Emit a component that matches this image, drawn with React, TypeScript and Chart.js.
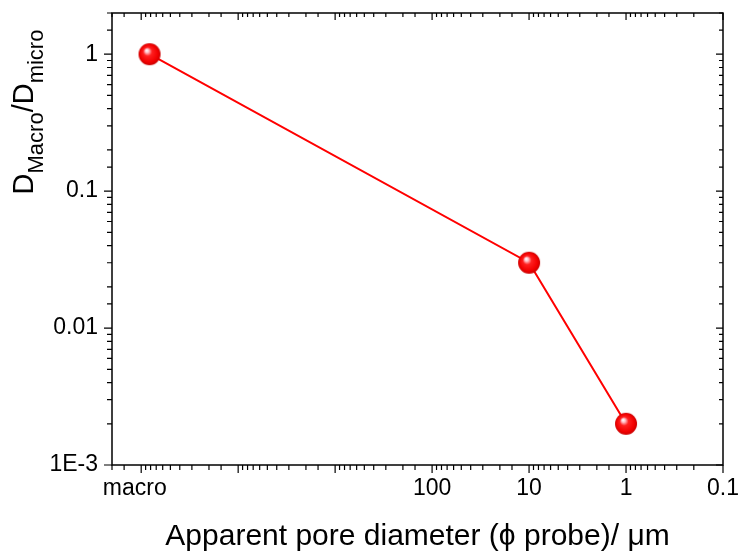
import React, { useEffect, useRef } from 'react';
import { Chart, registerables } from 'chart.js';

Chart.register(...registerables);

// ---- data ----
const xValues = [82000, 10, 1];
const ratioValues = [1, 0.03, 0.002];
const xTickValues = [1e5, 100, 10, 1, 0.1];
const xTickLabels = ['macro  ', '100', '10', '1', '0.1'];
const yTickValues = [1, 0.1, 0.01, 0.001];
const yTickLabels = ['1', '0.1', '0.01', '1E-3'];
const xMin = 0.1;
const xMax = 2e5;
const yMin = 1e-3;
const yMax = 2;
const xTitle = 'Apparent pore diameter (\u03D5 probe)/ \u03BCm';

const FONT = '"Liberation Sans", Arial, sans-serif';

function isDecade(v: number) {
  const l = Math.log10(v);
  return Math.abs(l - Math.round(l)) < 1e-6;
}

function labelFor(v: number, values: number[], labels: string[]) {
  for (let i = 0; i < values.length; i++) {
    if (Math.abs(Math.log10(v) - Math.log10(values[i])) < 1e-6) return labels[i];
  }
  return '';
}

function makeBall(r: number) {
  const s = 2 * r + 2;
  const c = document.createElement('canvas');
  c.width = s;
  c.height = s;
  const ctx = c.getContext('2d')!;
  const cx = s / 2;
  const cy = s / 2;
  const g = ctx.createRadialGradient(cx - 3, cy - 4, 0.3, cx, cy, r);
  g.addColorStop(0, '#ffffff');
  g.addColorStop(0.15, '#ffc0c8');
  g.addColorStop(0.38, '#ff2020');
  g.addColorStop(0.8, '#f20000');
  g.addColorStop(1, '#c80000');
  ctx.fillStyle = g;
  ctx.beginPath();
  ctx.arc(cx, cy, r, 0, Math.PI * 2);
  ctx.fill();
  return c;
}

const frameTicksPlugin = {
  id: 'frameTicks',
  afterDraw(chart: any) {
    const { ctx, chartArea: a, scales } = chart;
    const xs = scales.x;
    const ys = scales.y;
    ctx.save();
    ctx.strokeStyle = '#000';
    ctx.lineWidth = 1.5;
    ctx.strokeRect(a.left, a.top, a.right - a.left, a.bottom - a.top);
    ctx.lineWidth = 1.2;
    ctx.beginPath();
    xs.ticks.forEach((t: any) => {
      const p = xs.getPixelForValue(t.value);
      const major = isDecade(t.value);
      const out = major ? 8 : 5;
      const inn = major ? 7 : 4;
      ctx.moveTo(p, a.bottom);
      ctx.lineTo(p, a.bottom + out);
      ctx.moveTo(p, a.top);
      ctx.lineTo(p, a.top + inn);
    });
    ys.ticks.forEach((t: any) => {
      const p = ys.getPixelForValue(t.value);
      const major = isDecade(t.value);
      const out = major ? 8 : 5;
      const inn = major ? 7 : 4;
      ctx.moveTo(a.left, p);
      ctx.lineTo(a.left - out, p);
      ctx.moveTo(a.right, p);
      ctx.lineTo(a.right - inn, p);
    });
    ctx.stroke();

    // x title
    ctx.fillStyle = '#000';
    ctx.font = `30px ${FONT}`;
    ctx.textAlign = 'center';
    ctx.textBaseline = 'middle';
    ctx.fillText(xTitle, (a.left + a.right) / 2, 537);

    // y title with subscripts
    const big = `29px ${FONT}`;
    const small = `22px ${FONT}`;
    const parts: [string, string, number][] = [
      ['D', big, 0],
      ['Macro', small, 10],
      ['/D', big, 0],
      ['micro', small, 10],
    ];
    let total = 0;
    parts.forEach(([s, f]) => {
      ctx.font = f;
      total += ctx.measureText(s).width;
    });
    ctx.translate(33, 112 + total / 2);
    ctx.rotate(-Math.PI / 2);
    ctx.textAlign = 'left';
    ctx.textBaseline = 'alphabetic';
    let x = 0;
    parts.forEach(([s, f, dy]) => {
      ctx.font = f;
      ctx.fillText(s, x, dy);
      x += ctx.measureText(s).width;
    });
    ctx.restore();
  },
};

export default function App() {
  const ref = useRef<HTMLCanvasElement | null>(null);
  useEffect(() => {
    if (!ref.current) return;
    const ball = makeBall(11);
    const chart = new Chart(ref.current, {
      type: 'line',
      data: {
        datasets: [
          {
            data: xValues.map((x, i) => ({ x, y: ratioValues[i] })),
            borderColor: '#ff0000',
            borderWidth: 2,
            pointStyle: ball as any,
            pointRadius: 11,
            tension: 0,
          },
        ],
      },
      options: {
        responsive: false,
        animation: false,
        events: [],
        layout: { padding: { top: 10, right: 20, left: 0, bottom: 0 } },
        plugins: { legend: { display: false }, tooltip: { enabled: false } },
        scales: {
          x: {
            type: 'logarithmic',
            position: 'bottom',
            reverse: true,
            min: xMin,
            max: xMax,
            grid: { display: false, drawTicks: false },
            border: { display: false },
            ticks: {
              autoSkip: false,
              maxRotation: 0,
              minRotation: 0,
              padding: 10,
              color: '#000',
              font: { family: FONT, size: 23 },
              callback: (v: any) => labelFor(Number(v), xTickValues, xTickLabels),
            },
            afterFit: (s: any) => {
              s.height = 91;
              s.paddingLeft = 0;
              s.paddingRight = 0;
              s.paddingTop = 0;
              s.paddingBottom = 0;
            },
          },
          y: {
            type: 'logarithmic',
            position: 'left',
            min: yMin,
            max: yMax,
            grid: { display: false, drawTicks: false },
            border: { display: false },
            ticks: {
              autoSkip: false,
              padding: 14,
              color: '#000',
              font: { family: FONT, size: 23 },
              callback: (v: any) => labelFor(Number(v), yTickValues, yTickLabels),
            },
            afterFit: (s: any) => {
              s.width = 112;
              s.paddingLeft = 0;
              s.paddingRight = 0;
              s.paddingTop = 0;
              s.paddingBottom = 0;
            },
          },
        },
      },
      plugins: [frameTicksPlugin],
    });
    return () => chart.destroy();
  }, []);
  return (
    <div style={{ position: 'fixed', left: 0, top: 0, width: 743, height: 556, background: '#fff' }}>
      <canvas ref={ref} width={743} height={556} style={{ width: 743, height: 556 }} />
    </div>
  );
}
